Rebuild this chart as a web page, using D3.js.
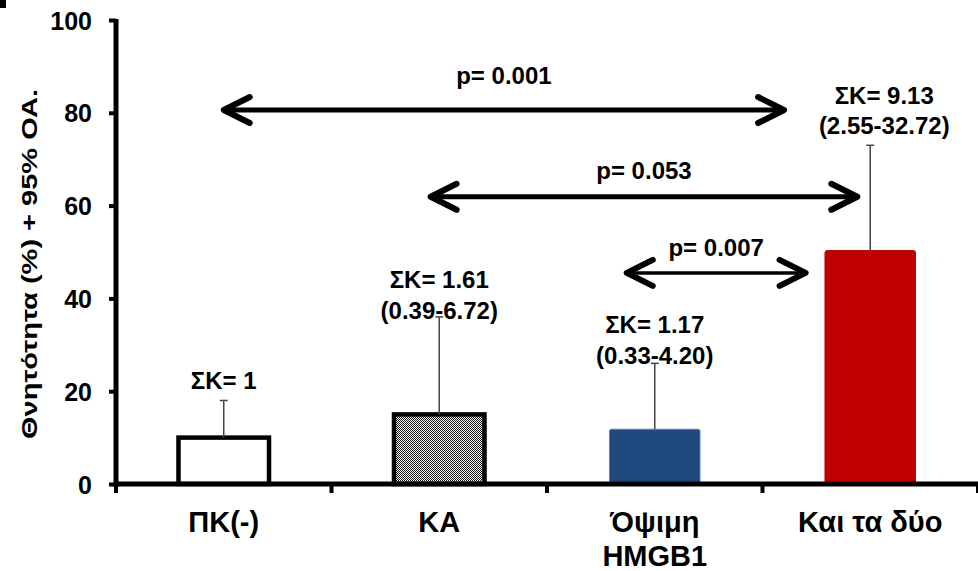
<!DOCTYPE html>
<html>
<head>
<meta charset="utf-8">
<script src="https://cdn.jsdelivr.net/npm/d3@7"></script>
<style>
  body { margin: 0; background: #fff; }
  text { font-family: "Liberation Sans", Arial, sans-serif; font-weight: bold; fill: #000; }
</style>
</head>
<body>
<div id="chart"></div>
<script>
document.addEventListener("DOMContentLoaded", function() {

    var categories = ["ΠΚ(-)", "ΚΑ", "Όψιμη\nHMGB1", "Και τα δύο"];
    var values = [10, 15, 11.8, 50.3];
    var errUpper = [18, 36, 26, 73];
    var fills = ["#ffffff", "url(#dots)", "#1f497d", "#c00000"];

    var orLabels = ["ΣΚ= 1", "ΣΚ= 1.61", "ΣΚ= 1.17", "ΣΚ= 9.13"];
    var ciLabels = ["", "(0.39-6.72)", "(0.33-4.20)", "(2.55-32.72)"];
    var orLabelY = [22.4, 44, 34.3, 83.8];

    var yTicks = [0, 20, 40, 60, 80, 100];

    // comparisons: from/to in category positions (0..3)
    var compFrom = [0, 0.96, 1.87];
    var compTo = [2.6, 2.94, 2.7];
    var compY = [80.6, 61.9, 45.5];
    var compLabelY = [88.1, 67.7, 50.9];
    var compText = ["p= 0.001", "p= 0.053", "p= 0.007"];

    var width = 978, height = 571;
    var margin = { top: 20, right: 0, bottom: 87, left: 116 };

    var svg = d3.select("#chart").append("svg")
        .attr("width", width)
        .attr("height", height);

    var defs = svg.append("defs");
    var pat = defs.append("pattern")
        .attr("id", "dots")
        .attr("width", 2).attr("height", 2)
        .attr("patternUnits", "userSpaceOnUse");
    pat.append("rect").attr("width", 2).attr("height", 2).attr("fill", "#fff");
    pat.append("rect").attr("width", 1).attr("height", 1).attr("fill", "#111");
    pat.append("rect").attr("x", 1).attr("y", 1).attr("width", 1).attr("height", 1).attr("fill", "#111");

    var x = d3.scaleBand()
        .domain(categories)
        .range([margin.left, width - margin.right])
        .paddingInner(0.58)
        .paddingOuter(0.29);

    var step = x.step();
    var xPos = d3.scaleLinear()
        .domain([0, 3])
        .range([x(categories[0]) + x.bandwidth() / 2, x(categories[3]) + x.bandwidth() / 2]);

    var y = d3.scaleLinear()
        .domain([0, 100])
        .range([height - margin.bottom, margin.top]);

    // bars
    svg.selectAll("rect.bar")
        .data(values)
        .enter().append("rect")
        .attr("class", "bar")
        .attr("x", function(d, i) { return x(categories[i]); })
        .attr("y", function(d) { return y(d); })
        .attr("width", x.bandwidth())
        .attr("height", function(d) { return y(0) - y(d); })
        .attr("rx", function(d, i) { return i > 1 ? 2 : 0; })
        .attr("fill", function(d, i) { return fills[i]; })
        .attr("stroke", function(d, i) { return i < 2 ? "#000" : (i == 2 ? "#5f7fae" : "#c00000"); })
        .attr("stroke-width", function(d, i) { return i < 2 ? 4.5 : 1; });

    // error bars
    var eb = svg.selectAll("g.err")
        .data(errUpper)
        .enter().append("g")
        .attr("class", "err");
    eb.append("line")
        .attr("x1", function(d, i) { return xPos(i); })
        .attr("x2", function(d, i) { return xPos(i); })
        .attr("y1", function(d, i) { return y(values[i]); })
        .attr("y2", function(d) { return y(d); })
        .attr("stroke", "#444")
        .attr("stroke-width", 1.5);
    eb.append("line")
        .attr("x1", function(d, i) { return xPos(i) - 4; })
        .attr("x2", function(d, i) { return xPos(i) + 4; })
        .attr("y1", function(d) { return y(d); })
        .attr("y2", function(d) { return y(d); })
        .attr("stroke", "#444")
        .attr("stroke-width", 1.5);

    // axes
    var yAxis = svg.append("g")
        .attr("transform", "translate(" + margin.left + ",0)")
        .call(d3.axisLeft(y).tickValues(yTicks).tickSize(7).tickPadding(17));
    yAxis.select(".domain").attr("stroke-width", 5).attr("d", "M0," + (y(0) + 3) + "V" + (y(100) - 1));
    yAxis.selectAll(".tick line").attr("stroke-width", 4);
    yAxis.selectAll(".tick text")
        .style("font-size", "25px")
        .attr("dy", "0.36em");

    var xAxis = svg.append("g")
        .attr("transform", "translate(0," + y(0) + ")");
    xAxis.append("line")
        .attr("x1", margin.left - 2).attr("x2", width)
        .attr("stroke", "#000").attr("stroke-width", 5);
    xAxis.selectAll("line.tk")
        .data(d3.range(categories.length + 1))
        .enter().append("line")
        .attr("class", "tk")
        .attr("x1", function(d) { return margin.left + d * step; })
        .attr("x2", function(d) { return margin.left + d * step; })
        .attr("y1", 0).attr("y2", 9)
        .attr("stroke", "#000").attr("stroke-width", 4);

    var catText = xAxis.selectAll("text.cat")
        .data(categories)
        .enter().append("text")
        .attr("class", "cat")
        .attr("text-anchor", "middle")
        .attr("transform", function(d, i) { return "translate(" + xPos(i) + ",48)"; })
        .style("font-size", "29px");
    catText.each(function(d) {
        var lines = d.split("\n");
        var t = d3.select(this);
        lines.forEach(function(l, k) {
            t.append("tspan").attr("x", 0).attr("dy", k == 0 ? 0 : "1.18em").text(l);
        });
    });

    // y title
    svg.append("text")
        .attr("transform", "translate(29,264) rotate(-90)")
        .attr("text-anchor", "middle")
        .attr("dy", "0.35em")
        .attr("textLength", 350)
        .attr("lengthAdjust", "spacingAndGlyphs")
        .style("font-size", "22px")
        .text("Θνητότητα (%)  + 95% ΟΑ.");

    // ΣΚ labels
    var lab = svg.selectAll("g.or")
        .data(orLabels)
        .enter().append("g")
        .attr("class", "or");
    lab.append("text")
        .attr("x", function(d, i) { return xPos(i) + (i == 3 ? 14 : 0); })
        .attr("y", function(d, i) { return y(orLabelY[i]); })
        .attr("dy", "0.36em")
        .attr("text-anchor", "middle")
        .style("font-size", "24px")
        .text(function(d) { return d; });
    lab.append("text")
        .attr("x", function(d, i) { return xPos(i) + (i == 3 ? 14 : 0); })
        .attr("y", function(d, i) { return y(orLabelY[i]); })
        .attr("dy", "1.62em")
        .attr("text-anchor", "middle")
        .style("font-size", "24px")
        .text(function(d, i) { return ciLabels[i]; });

    // comparison arrows
    function arrowHead(tipX, tipY, dir) {
        var len = 26, half = 13;
        return "M" + (tipX + dir * len) + "," + (tipY - half) +
            "L" + tipX + "," + tipY +
            "L" + (tipX + dir * len) + "," + (tipY + half);
    }
    var comp = svg.selectAll("g.comp")
        .data(compText)
        .enter().append("g")
        .attr("class", "comp");
    comp.append("line")
        .attr("x1", function(d, i) { return xPos(compFrom[i]) + 3; })
        .attr("x2", function(d, i) { return xPos(compTo[i]) - 3; })
        .attr("y1", function(d, i) { return y(compY[i]); })
        .attr("y2", function(d, i) { return y(compY[i]); })
        .attr("stroke", "#000")
        .attr("stroke-width", function(d, i) { return i == 2 ? 3.5 : 5; });
    comp.append("path")
        .attr("d", function(d, i) {
            return arrowHead(xPos(compFrom[i]), y(compY[i]), 1) + arrowHead(xPos(compTo[i]), y(compY[i]), -1);
        })
        .attr("fill", "none")
        .attr("stroke", "#000")
        .attr("stroke-width", 6)
        .attr("stroke-linecap", "round")
        .attr("stroke-linejoin", "round");
    comp.append("text")
        .attr("x", function(d, i) { return (xPos(compFrom[i]) + xPos(compTo[i])) / 2; })
        .attr("y", function(d, i) { return y(compLabelY[i]); })
        .attr("dy", "0.36em")
        .attr("text-anchor", "middle")
        .style("font-size", "24px")
        .text(function(d) { return d; });

    // corner fragment
    svg.append("rect").attr("x", 0).attr("y", 0).attr("width", 6).attr("height", 8).attr("fill", "#000");
});
</script>
</body>
</html>
